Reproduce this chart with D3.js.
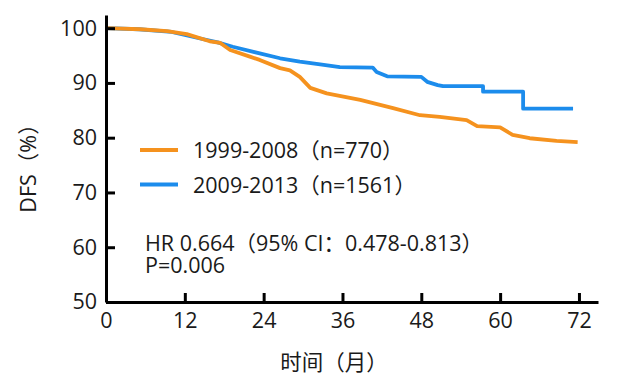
<!DOCTYPE html>
<html><head><meta charset="utf-8">
<script src="https://cdn.jsdelivr.net/npm/d3@7"></script>
<style>body{margin:0;background:#fff}svg{display:block}text{font-family:"Open Sans","Noto Sans CJK SC",sans-serif;fill:#1a1a1a}</style>
</head><body><svg id="c" width="624" height="381"></svg>
<script>
const xTicks=[0,12,24,36,48,60,72];
const yTicks=[50,60,70,80,90,100];
const seriesNames=["1999-2008（n=770）","2009-2013（n=1561）"];
const seriesColors=["#F5921E","#1C8CEC"];
const orangeT=[0,5.2,9.3,12.3,15.8,17.4,18.9,21.9,23.4,26.5,28,29.5,31.1,33.6,38.7,43.7,47.8,50.8,54.9,56.5,60,61.9,64.5,68.6,71.8];
const orangeV=[100,99.8,99.45,98.9,97.6,97.3,96.0,94.8,94.2,92.7,92.3,91.1,89.1,88.1,86.9,85.4,84.1,83.8,83.2,82.1,81.9,80.5,79.9,79.4,79.2];
const blueT=[0,5,10,14,17,19.3,23.4,26.5,29.5,32.6,35.6,40.6,41.2,42.8,48,48.9,50.5,51.3,57.4,57.4,63.5,63.5,71.1];
const blueV=[100,99.8,99.3,98.2,97.4,96.6,95.4,94.5,93.9,93.4,92.9,92.8,92.0,91.2,91.1,90.2,89.6,89.4,89.4,88.4,88.4,85.3,85.3];
const annot=["HR 0.664（95% CI：0.478-0.813）","P=0.006"];

const svg=d3.select("#c");
const x=d3.scaleLinear().domain([0,74.9]).range([106,598]);
const y=d3.scaleLinear().domain([50,102.4]).range([302,15]);
const FS="21.5px";

const line=d3.line().x(d=>x(d[0])).y(d=>y(d[1]));
const data=[d3.zip(orangeT,orangeV),d3.zip(blueT,blueV)];
[1,0].forEach(i=>{
  svg.append("path").attr("d",line(data[i])).attr("fill","none")
    .attr("stroke",seriesColors[i]).attr("stroke-width",3.8).attr("stroke-linejoin","round");
});

const xa=svg.append("g").attr("transform","translate(0,302)")
  .call(d3.axisBottom(x).tickValues(xTicks).tickSizeInner(-9).tickSizeOuter(0).tickPadding(11));
const ya=svg.append("g").attr("transform","translate(106,0)")
  .call(d3.axisLeft(y).tickValues(yTicks).tickSizeInner(-9).tickSizeOuter(0).tickPadding(9));
[xa,ya].forEach(g=>{
  g.select(".domain").attr("stroke","#000").attr("stroke-width",3);
  g.selectAll(".tick line").attr("stroke","#000").attr("stroke-width",3);
  g.selectAll(".tick text").style("font-size",FS).attr("fill","#1a1a1a");
});
xa.selectAll(".tick text").attr("dy","0.71em");

seriesNames.forEach((n,i)=>{
  const ly=150+i*34.5;
  svg.append("line").attr("x1",140).attr("x2",178).attr("y1",ly).attr("y2",ly)
    .attr("stroke",seriesColors[i]).attr("stroke-width",4);
  svg.append("text").attr("x",193).attr("y",ly+8).style("font-size",FS).text(n);
});
const at=svg.append("text").attr("x",145).attr("y",251).style("font-size",FS);
annot.forEach((t,i)=>{
  at.append("tspan").attr("x",145).attr("dy",i?22:0).text(t);
});
svg.append("text").attr("transform","translate(36,163) rotate(-90)").attr("text-anchor","middle")
  .style("font-size",FS).text("DFS（%）");
svg.append("text").attr("x",334).attr("y",370).attr("text-anchor","middle")
  .style("font-size",FS).text("时间（月）");
</script></body></html>
